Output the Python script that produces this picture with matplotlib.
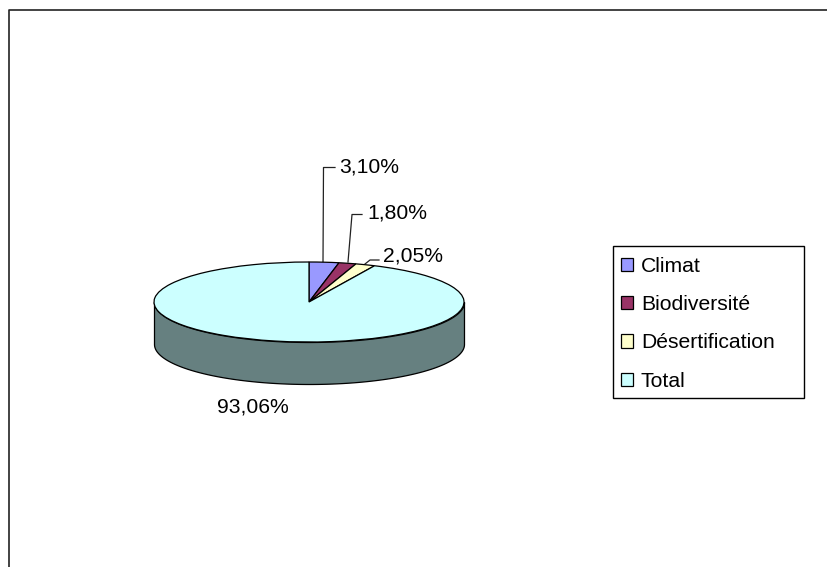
import matplotlib
matplotlib.use("Agg")
import numpy as np
import matplotlib.pyplot as plt
from matplotlib.patches import Rectangle

W, H = 827, 567

labels = ["Climat", "Biodiversité", "Désertification", "Total"]
values = [3.10, 1.80, 2.05, 93.06]
value_text = ["3,10%", "1,80%", "2,05%", "93,06%"]
colors = ["#9999FF", "#993366", "#FFFFCC", "#CCFFFF"]
side_color = "#668080"

plt.rcParams["font.family"] = ["Liberation Sans", "DejaVu Sans"]
FS = 15.2

fig = plt.figure(figsize=(W / 100, H / 100), dpi=100)

# full figure axes in pixels, used for frame, labels and leader lines
bg = fig.add_axes([0, 0, 1, 1])
bg.set_xlim(0, W)
bg.set_ylim(H, 0)
bg.axis("off")
bg.plot([8.5, 8.5, W], [H, 9.5, 9.5], color="#222222", lw=1.2, clip_on=False)

# pie top, squeezed into an ellipse by the axes shape
cx, cy, rx, ry = 309, 302, 155, 40
depth = 42
ax = fig.add_axes([(cx - rx) / W, 1 - (cy + ry) / H, 2 * rx / W, 2 * ry / H])
wedges, _ = ax.pie(values, colors=colors, startangle=90, counterclock=False, radius=1,
                   wedgeprops={"edgecolor": "black", "linewidth": 0.9, "zorder": 3})
ax.set_aspect("auto")
ax.set_xlim(-1, 1)
ax.set_ylim(-1, 1)

# side wall of the disc
t = np.linspace(np.pi, 2 * np.pi, 200)
ax.fill_between(np.cos(t), np.sin(t), np.sin(t) - depth / ry, color=side_color,
                edgecolor="black", linewidth=0.9, clip_on=False, zorder=1)

# leader lines
lc = "#222222"
bg.plot([323, 323.5, 335], [262, 167.5, 167.5], color=lc, lw=0.9)
bg.plot([348, 352, 362], [262, 214.5, 214.5], color=lc, lw=0.9)
bg.plot([365, 370, 379], [264, 260, 260], color=lc, lw=0.9)

bg.text(339, 167, value_text[0], fontsize=FS, va="center", color="black")
bg.text(367, 213, value_text[1], fontsize=FS, va="center", color="black")
bg.text(383, 256, value_text[2], fontsize=FS, va="center", color="black")
bg.text(217, 407, value_text[3], fontsize=FS, va="center", color="black")

# legend box is wider than its entries, so it gets its own rectangle
bg.add_patch(Rectangle((613, 246), 191, 152, facecolor="white", edgecolor="black", lw=1.0))
leg = fig.legend(wedges, labels, loc="upper left", bbox_to_anchor=(621 / W, 1 - 257 / H),
                 fontsize=FS, frameon=False, borderaxespad=0, borderpad=0,
                 labelspacing=0.91, handlelength=0.58, handleheight=0.58, handletextpad=0.36)

fig.savefig("out.png", dpi=100)
